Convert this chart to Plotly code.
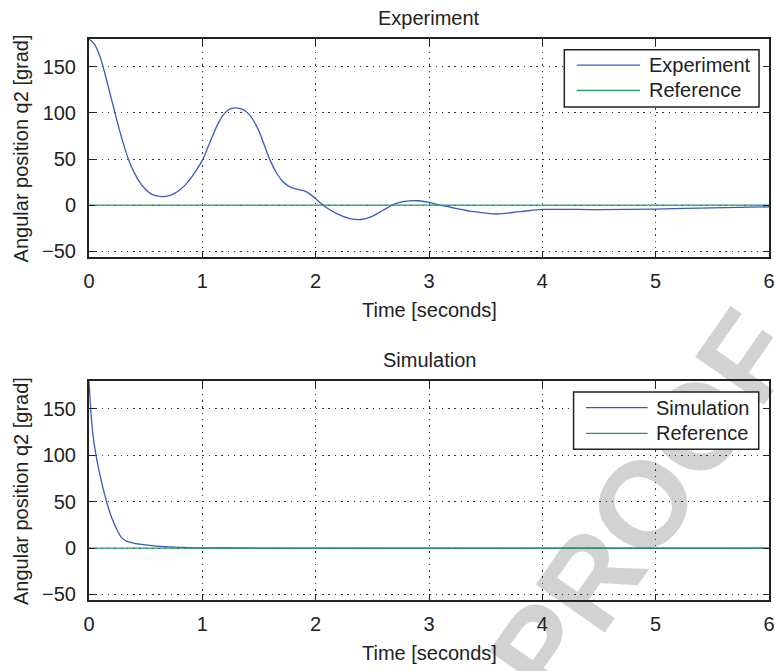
import plotly.graph_objects as go

# --- data -----------------------------------------------------------------
time_exp = [0.00, 0.05, 0.10, 0.15, 0.20, 0.25, 0.30, 0.35, 0.40, 0.45, 0.50,
            0.55, 0.60, 0.65, 0.70, 0.75, 0.80, 0.85, 0.90, 0.95, 1.00, 1.05,
            1.10, 1.15, 1.20, 1.25, 1.30, 1.35, 1.40, 1.45, 1.50, 1.55, 1.60,
            1.65, 1.70, 1.75, 1.80, 1.85, 1.90, 1.95, 2.00, 2.05, 2.10, 2.20,
            2.30, 2.40, 2.50, 2.60, 2.70, 2.80, 2.90, 3.00, 3.10, 3.20, 3.40,
            3.60, 3.80, 4.00, 4.50, 5.00, 5.50, 6.00]
q2_exp = [180, 174, 160, 138, 114, 90, 68, 49, 35, 24.5, 17,
          12, 10, 9.3, 10, 12.5, 16.5, 22, 29.5, 38.5, 48.5, 63,
          78, 91, 100, 104.5, 105.5, 104, 100, 92, 80, 64, 48,
          36, 27, 21.5, 18.5, 17, 15.5, 12, 7, 1.5, -3, -10,
          -14.5, -15.5, -12, -5, 1.5, 4.5, 4.8, 3, 0, -2.5, -7,
          -9.5, -7, -4.6, -4.8, -4.2, -2.8, -1.8]

time_sim = [0.00, 0.015, 0.035, 0.062, 0.10, 0.155, 0.20, 0.25, 0.29, 0.33,
            0.40, 0.50, 0.60, 0.75, 0.90, 1.00, 1.50, 2.00, 3.00, 4.00, 5.00, 6.00]
q2_sim = [180, 150, 122, 100, 77, 50, 33, 19, 11, 7.5,
          5.2, 3.5, 2.2, 1.0, 0.4, 0.2, 0.0, 0.0, 0.0, 0.0, 0.0, 0.0]

time_ref = [0, 6]
q2_ref = [0, 0]

panel_titles = ["Experiment", "Simulation"]
series_names = [["Experiment", "Reference"], ["Simulation", "Reference"]]
x_ticks = [0, 1, 2, 3, 4, 5, 6]
y_ticks = [-50, 0, 50, 100, 150]

# --- styling ----------------------------------------------------------------
W, H = 775, 671
ML, MR = 89, 4
BLUE = "#3a5bbd"
GREEN = "#1f9a5e"
INK = "#222222"
FONT = "Liberation Sans, Arial, Helvetica, sans-serif"
FS = 20


def px(x):
    return (x - ML) / (W - ML - MR)


def py(y):
    return 1 - y / H


# pixel extents (top, bottom) of the two panels
panels = [(39.3, 259.3), (384.0, 605.0)]

fig = go.Figure()

series = [(time_exp, q2_exp, 0.8), (time_sim, q2_sim, 0.5)]
for i, (t, q, sm) in enumerate(series):
    xa = "x" if i == 0 else "x2"
    ya = "y" if i == 0 else "y2"
    fig.add_trace(go.Scatter(x=t, y=q, mode="lines", name=series_names[i][0],
                             line=dict(color=BLUE, width=1.3, shape="spline", smoothing=sm),
                             xaxis=xa, yaxis=ya, showlegend=False))
    fig.add_trace(go.Scatter(x=time_ref, y=q2_ref, mode="lines", name=series_names[i][1],
                             line=dict(color=GREEN, width=1.3),
                             xaxis=xa, yaxis=ya, showlegend=False))

axis_common = dict(
    showline=True, linecolor=INK, linewidth=2, mirror="ticks",
    ticks="inside", ticklen=6, tickwidth=1, tickcolor=INK,
    showgrid=True, gridcolor="#333333", gridwidth=1, griddash="1.5px,4.8px",
    zeroline=False, tickfont=dict(family=FONT, size=FS, color=INK),
    ticklabeloverflow="allow",
)

layout = dict(
    width=W, height=H,
    margin=dict(l=ML, r=MR, t=0, b=0, pad=0),
    paper_bgcolor="white", plot_bgcolor="white",
    showlegend=False,
    font=dict(family=FONT, size=FS, color=INK),
)
for i, (top, bot) in enumerate(panels):
    sfx = "" if i == 0 else "2"
    layout["xaxis" + sfx] = dict(axis_common, range=[0, 6], tickvals=x_ticks,
                                 domain=[0, 1], anchor="y" + sfx, ticklabelstandoff=5)
    layout["yaxis" + sfx] = dict(axis_common, range=[-56.5, 180], tickvals=y_ticks,
                                 domain=[py(bot), py(top)], anchor="x" + sfx,
                                 ticklabelstandoff=7)
fig.update_layout(**layout)

annotations = []
shapes = []

# faint watermark behind the axes
shapes.append(dict(type="rect", xref="paper", yref="paper", layer="below",
                   x0=px(555), x1=px(715), y0=py(581), y1=py(421),
                   line=dict(width=0), fillcolor="rgba(0,0,0,0)",
                   label=dict(text="PROOF", textposition="middle center", textangle=-55,
                              font=dict(family=FONT, size=122, color="#d2d2d2", weight="bold"))))

# legend boxes: (box x0, x1, y0, y1, line x0, x1, text x, row y's)
legend_geo = [
    (565.7, 761.0, 50.0, 107.7, 578.3, 641.7, 648.3, (65.7, 91.0)),
    (575.0, 760.7, 395.0, 452.7, 587.3, 649.3, 656.0, (410.7, 436.7)),
]

for i, (top, bot) in enumerate(panels):
    # panel title
    annotations.append(dict(text=panel_titles[i], xref="paper", yref="paper",
                            x=0.5, y=py(top - 21), xanchor="center", yanchor="middle",
                            showarrow=False, font=dict(family=FONT, size=FS, color=INK)))
    # x-axis title
    annotations.append(dict(text="Time [seconds]", xref="paper", yref="paper",
                            x=0.5, y=py(bot + 53), xanchor="center", yanchor="middle",
                            showarrow=False, font=dict(family=FONT, size=FS, color=INK)))
    # y-axis title
    annotations.append(dict(text="Angular position q2 [grad]", xref="paper", yref="paper",
                            x=px(21), y=py((top + bot) / 2), xanchor="center",
                            yanchor="middle", textangle=-90, showarrow=False,
                            font=dict(family=FONT, size=FS, color=INK)))

    bx0, bx1, by0, by1, lx0, lx1, tx, rows = legend_geo[i]
    shapes.append(dict(type="rect", xref="paper", yref="paper", layer="above",
                       x0=px(bx0), x1=px(bx1), y0=py(by1), y1=py(by0),
                       line=dict(color=INK, width=1.5), fillcolor="white"))
    for name, color, ry in zip(series_names[i], [BLUE, GREEN], rows):
        shapes.append(dict(type="line", xref="paper", yref="paper", layer="above",
                           x0=px(lx0), x1=px(lx1), y0=py(ry), y1=py(ry),
                           line=dict(color=color, width=1.3)))
        annotations.append(dict(text=name, xref="paper", yref="paper",
                                x=px(tx), y=py(ry), xanchor="left", yanchor="middle",
                                showarrow=False, font=dict(family=FONT, size=FS, color=INK)))

fig.update_layout(annotations=annotations, shapes=shapes)

fig.write_html("out.html")
